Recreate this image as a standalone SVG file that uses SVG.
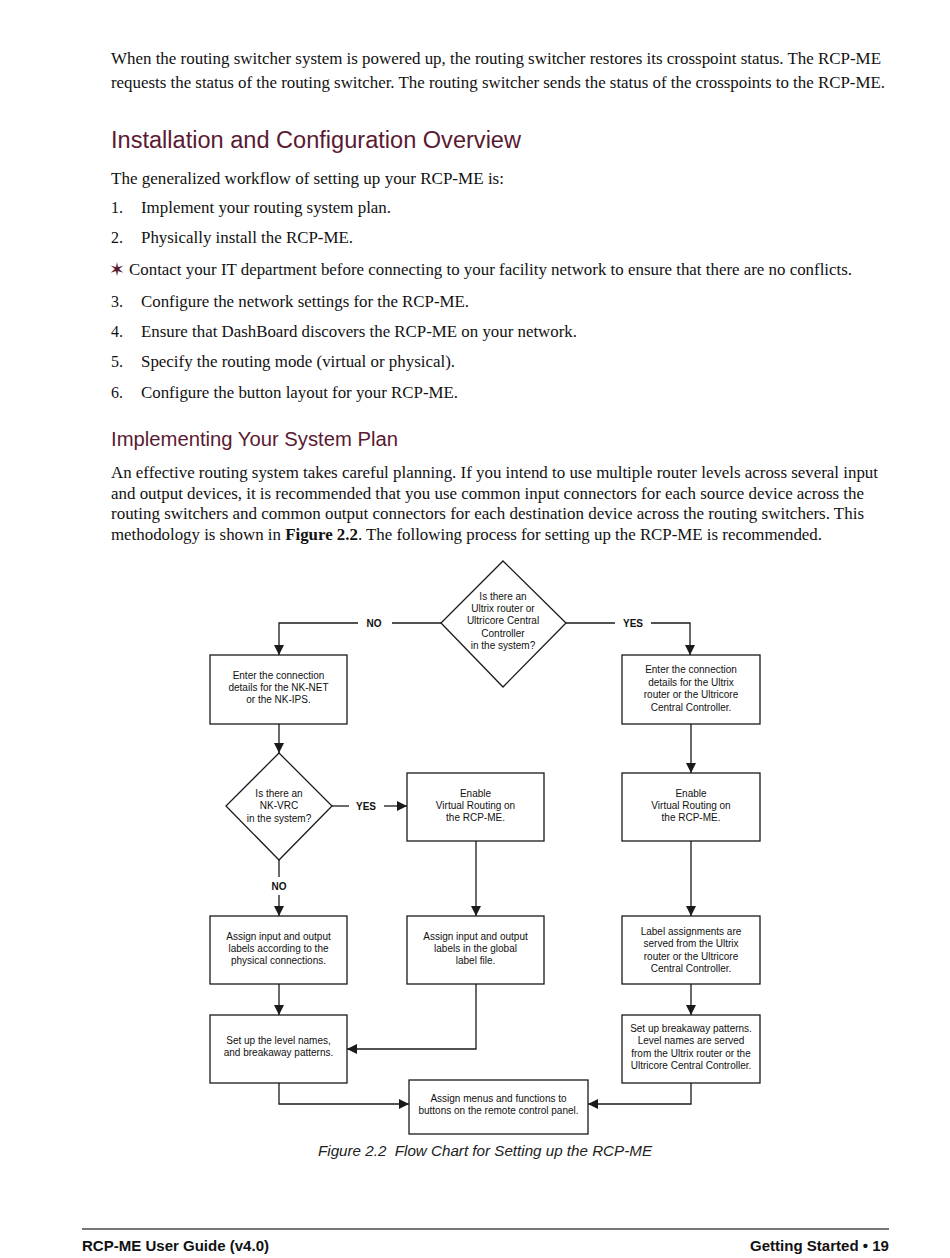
<svg xmlns="http://www.w3.org/2000/svg" width="950" height="1258" viewBox="0 0 950 1258">
<style>
.body{font-family:"Liberation Serif","Times New Roman",serif;font-size:16px;fill:#111}
.h1{font-family:"Liberation Sans",Arial,sans-serif;font-size:23.5px;fill:#5a1a32}
.h2{font-family:"Liberation Sans",Arial,sans-serif;font-size:20px;fill:#5a1a32}
.n{font-family:"Liberation Sans",Arial,sans-serif;font-size:10px;fill:#111;text-anchor:middle}
.lbl{font-family:"Liberation Sans",Arial,sans-serif;font-size:10px;font-weight:bold;fill:#111;text-anchor:middle}
.box{fill:#fff;stroke:#1a1a1a;stroke-width:1.3}
.ln{fill:none;stroke:#1a1a1a;stroke-width:1.3}
.arr{fill:none;stroke:#1a1a1a;stroke-width:1.3;marker-end:url(#ah)}
.cap{font-family:"Liberation Sans",Arial,sans-serif;font-size:14px;font-style:italic;fill:#222;text-anchor:middle}
.ft{font-family:"Liberation Sans",Arial,sans-serif;font-size:15px;font-weight:bold;fill:#111}
</style>
<defs>
<marker id="ah" viewBox="0 0 10 10" refX="10" refY="5" markerWidth="10" markerHeight="10" markerUnits="userSpaceOnUse" orient="auto">
<path d="M0,0 L10,5 L0,10 z" fill="#1a1a1a"/>
</marker>
</defs>
<rect width="950" height="1258" fill="#fff"/>

<g id="text">
<text class="body" x="111" y="64" textLength="770" lengthAdjust="spacingAndGlyphs">When the routing switcher system is powered up, the routing switcher restores its crosspoint status. The RCP-ME</text>
<text class="body" x="111" y="88" textLength="774" lengthAdjust="spacingAndGlyphs">requests the status of the routing switcher. The routing switcher sends the status of the crosspoints to the RCP-ME.</text>
<text class="h1" x="111" y="148" textLength="410" lengthAdjust="spacingAndGlyphs">Installation and Configuration Overview</text>
<text class="body" x="111" y="184" textLength="393" lengthAdjust="spacingAndGlyphs">The generalized workflow of setting up your RCP-ME is:</text>
<text class="body" x="111" y="213">1.</text>
<text class="body" x="141" y="213" textLength="250" lengthAdjust="spacingAndGlyphs">Implement your routing system plan.</text>
<text class="body" x="111" y="243">2.</text>
<text class="body" x="141" y="243" textLength="212" lengthAdjust="spacingAndGlyphs">Physically install the RCP-ME.</text>
<text x="109" y="276" style="font-family:'DejaVu Sans',sans-serif;font-size:19px;font-weight:bold;fill:#5a1a32">✶</text>
<text class="body" x="129" y="275" textLength="723" lengthAdjust="spacingAndGlyphs">Contact your IT department before connecting to your facility network to ensure that there are no conflicts.</text>
<text class="body" x="111" y="307">3.</text>
<text class="body" x="141" y="307" textLength="328" lengthAdjust="spacingAndGlyphs">Configure the network settings for the RCP-ME.</text>
<text class="body" x="111" y="337">4.</text>
<text class="body" x="141" y="337" textLength="436" lengthAdjust="spacingAndGlyphs">Ensure that DashBoard discovers the RCP-ME on your network.</text>
<text class="body" x="111" y="367">5.</text>
<text class="body" x="141" y="367" textLength="314" lengthAdjust="spacingAndGlyphs">Specify the routing mode (virtual or physical).</text>
<text class="body" x="111" y="398">6.</text>
<text class="body" x="141" y="398" textLength="317" lengthAdjust="spacingAndGlyphs">Configure the button layout for your RCP-ME.</text>
<text class="h2" x="111" y="446" textLength="287" lengthAdjust="spacingAndGlyphs">Implementing Your System Plan</text>
<text class="body" x="111" y="478" textLength="767" lengthAdjust="spacingAndGlyphs">An effective routing system takes careful planning. If you intend to use multiple router levels across several input</text>
<text class="body" x="111" y="499" textLength="753" lengthAdjust="spacingAndGlyphs">and output devices, it is recommended that you use common input connectors for each source device across the</text>
<text class="body" x="111" y="519" textLength="753" lengthAdjust="spacingAndGlyphs">routing switchers and common output connectors for each destination device across the routing switchers. This</text>
<text class="body" x="111" y="540" textLength="711" lengthAdjust="spacingAndGlyphs">methodology is shown in <tspan font-weight="bold">Figure 2.2</tspan>. The following process for setting up the RCP-ME is recommended.</text>
</g>

<g id="connectors">
<polyline class="ln" points="441,623 392,623"/>
<polyline class="arr" points="358,623 279,623 279,655"/>
<text class="lbl" x="374" y="627">NO</text>
<polyline class="ln" points="566,623 615,623"/>
<polyline class="arr" points="651,623 690,623 690,655"/>
<text class="lbl" x="633" y="627">YES</text>
<line class="arr" x1="279" y1="724" x2="279" y2="753"/>
<line class="arr" x1="691" y1="724" x2="691" y2="773"/>
<line class="ln" x1="332" y1="806" x2="349" y2="806"/>
<line class="arr" x1="384" y1="806" x2="407" y2="806"/>
<text class="lbl" x="366" y="810">YES</text>
<line class="ln" x1="279" y1="860" x2="279" y2="877"/>
<line class="arr" x1="279" y1="895" x2="279" y2="916"/>
<text class="lbl" x="279" y="890">NO</text>
<line class="arr" x1="476" y1="841" x2="476" y2="916"/>
<line class="arr" x1="691" y1="841" x2="691" y2="916"/>
<line class="arr" x1="279" y1="984" x2="279" y2="1015"/>
<polyline class="arr" points="476,984 476,1049 347,1049"/>
<line class="arr" x1="691" y1="984" x2="691" y2="1015"/>
<polyline class="arr" points="279,1083 279,1104 409,1104"/>
<polyline class="arr" points="691,1083 691,1104 588,1104"/>
</g>

<g id="q1">
<polygon class="box" points="503,561 566,623 503,687 441,623"/>
<text class="n" x="503" y="600">Is there an</text>
<text class="n" x="503" y="612">Ultrix router or</text>
<text class="n" x="503" y="624">Ultricore Central</text>
<text class="n" x="503" y="637">Controller</text>
<text class="n" x="503" y="649">in the system?</text>
</g>
<g id="nknet">
<rect class="box" x="210" y="655" width="137" height="69"/>
<text class="n" x="278.5" y="679">Enter the connection</text>
<text class="n" x="278.5" y="691">details for the NK-NET</text>
<text class="n" x="278.5" y="703">or the NK-IPS.</text>
</g>
<g id="ultrix">
<rect class="box" x="622" y="655" width="138" height="69"/>
<text class="n" x="691" y="673">Enter the connection</text>
<text class="n" x="691" y="686">details for the Ultrix</text>
<text class="n" x="691" y="698">router or the Ultricore</text>
<text class="n" x="691" y="711">Central Controller.</text>
</g>
<g id="q2">
<polygon class="box" points="279,753 332,806 279,860 226,806"/>
<text class="n" x="279" y="797">Is there an</text>
<text class="n" x="279" y="809">NK-VRC</text>
<text class="n" x="279" y="822">in the system?</text>
</g>
<g id="vr1">
<rect class="box" x="407" y="773" width="137" height="68"/>
<text class="n" x="475.5" y="797">Enable</text>
<text class="n" x="475.5" y="809">Virtual Routing on</text>
<text class="n" x="475.5" y="821">the RCP-ME.</text>
</g>
<g id="vr2">
<rect class="box" x="622" y="773" width="138" height="68"/>
<text class="n" x="691" y="797">Enable</text>
<text class="n" x="691" y="809">Virtual Routing on</text>
<text class="n" x="691" y="821">the RCP-ME.</text>
</g>
<g id="phys">
<rect class="box" x="210" y="916" width="137" height="68"/>
<text class="n" x="278.5" y="940">Assign input and output</text>
<text class="n" x="278.5" y="952">labels according to the</text>
<text class="n" x="278.5" y="964">physical connections.</text>
</g>
<g id="global">
<rect class="box" x="407" y="916" width="137" height="68"/>
<text class="n" x="475.5" y="940">Assign input and output</text>
<text class="n" x="475.5" y="952">labels in the global</text>
<text class="n" x="475.5" y="964">label file.</text>
</g>
<g id="served">
<rect class="box" x="622" y="916" width="138" height="68"/>
<text class="n" x="691" y="935">Label assignments are</text>
<text class="n" x="691" y="947">served from the Ultrix</text>
<text class="n" x="691" y="960">router or the Ultricore</text>
<text class="n" x="691" y="972">Central Controller.</text>
</g>
<g id="levels">
<rect class="box" x="210" y="1015" width="137" height="68"/>
<text class="n" x="278.5" y="1044">Set up the level names,</text>
<text class="n" x="278.5" y="1056">and breakaway patterns.</text>
</g>
<g id="breakaway">
<rect class="box" x="622" y="1015" width="138" height="68"/>
<text class="n" x="691" y="1032">Set up breakaway patterns.</text>
<text class="n" x="691" y="1044">Level names are served</text>
<text class="n" x="691" y="1057">from the Ultrix router or the</text>
<text class="n" x="691" y="1069">Ultricore Central Controller.</text>
</g>
<g id="menus">
<rect class="box" x="409" y="1080" width="179" height="54"/>
<text class="n" x="498.5" y="1102">Assign menus and functions to</text>
<text class="n" x="498.5" y="1114">buttons on the remote control panel.</text>
</g>

<g id="caption">
<text class="cap" x="485" y="1156" textLength="334" lengthAdjust="spacingAndGlyphs">Figure 2.2&#160; Flow Chart for Setting up the RCP-ME</text>
</g>

<g id="footer">
<line x1="82" y1="1229" x2="889" y2="1229" stroke="#777" stroke-width="2"/>
<text class="ft" x="82" y="1251" textLength="187" lengthAdjust="spacingAndGlyphs">RCP-ME User Guide (v4.0)</text>
<text class="ft" x="889" y="1251" text-anchor="end" textLength="139" lengthAdjust="spacingAndGlyphs">Getting Started • 19</text>
</g>
</svg>
